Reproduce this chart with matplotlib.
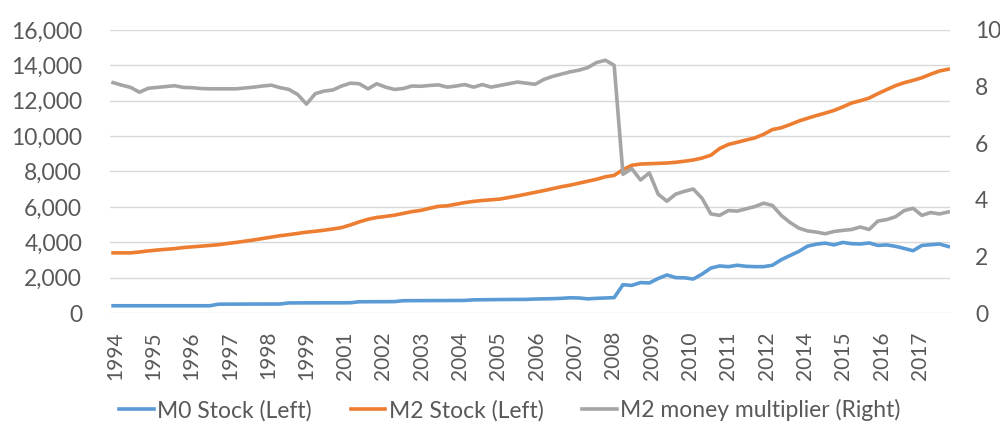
import numpy as np
import matplotlib
matplotlib.use("Agg")
from matplotlib import pyplot as plt
from matplotlib.ticker import FuncFormatter

m0_stock = [
    410, 410, 410, 410, 410, 410, 410, 410, 410, 410, 410, 410,
    500, 502, 503, 505, 506, 507, 508, 510,
    570, 572, 574, 575, 576, 577, 578, 580,
    635, 638, 640, 642, 645,
    695, 698, 700, 702, 704, 706, 708, 710,
    745, 750, 755, 760, 765, 768, 770,
    790, 800, 810, 830, 860, 850, 800, 830, 850, 870,
    1600, 1560, 1720, 1700, 1950, 2150, 2000, 1990, 1920, 2200,
    2540, 2660, 2620, 2700, 2640, 2620, 2620, 2700,
    3010, 3250, 3480, 3780, 3890, 3950, 3850, 3990,
    3920, 3900, 3960, 3820, 3850, 3770, 3650, 3520,
    3820, 3860, 3900, 3760,
]

m2_stock = [
    3400, 3400, 3400, 3450, 3510, 3560, 3600, 3640, 3700, 3740, 3780, 3820,
    3860, 3930, 3990, 4060, 4130, 4210, 4290, 4370, 4430, 4500, 4570, 4620,
    4680, 4750, 4830, 4980, 5150, 5300, 5400, 5460, 5530, 5630, 5730, 5800,
    5920, 6030, 6060, 6150, 6240, 6310, 6360, 6400, 6440, 6530, 6620, 6720,
    6820, 6920, 7030, 7140, 7230, 7340, 7450, 7560, 7700, 7780, 8100, 8350,
    8420, 8440, 8460, 8480, 8520, 8580, 8650, 8760, 8920, 9300, 9530, 9650,
    9780, 9900, 10100, 10370, 10470, 10650, 10850, 11010, 11160, 11300, 11450, 11650,
    11870, 12000, 12150, 12400, 12630, 12850, 13020, 13150, 13300, 13500, 13680, 13780,
]

m2_multiplier = [
    8.14, 8.05, 7.97, 7.80, 7.94, 7.97, 8.00, 8.03, 7.97, 7.96, 7.93, 7.92,
    7.92, 7.92, 7.92, 7.95, 7.98, 8.02, 8.05, 7.96, 7.90, 7.72, 7.38, 7.75,
    7.84, 7.88, 8.02, 8.12, 8.10, 7.92, 8.10, 7.98, 7.90, 7.93, 8.02, 8.01,
    8.04, 8.06, 7.98, 8.02, 8.07, 7.98, 8.07, 7.98, 8.04, 8.10, 8.16, 8.12,
    8.08, 8.25, 8.36, 8.44, 8.52, 8.58, 8.67, 8.85, 8.93, 8.75, 4.90, 5.10,
    4.70, 4.95, 4.20, 3.95, 4.20, 4.30, 4.38, 4.05, 3.50, 3.45, 3.62, 3.60,
    3.68, 3.76, 3.88, 3.80, 3.45, 3.20, 3.00, 2.90, 2.86, 2.80, 2.88, 2.92,
    2.95, 3.04, 2.95, 3.25, 3.30, 3.40, 3.62, 3.70, 3.45, 3.55, 3.50, 3.57,
]

year_labels = ["1994", "1995", "1996", "1997", "1998", "1999", "2001", "2002",
               "2003", "2004", "2005", "2006", "2007", "2008", "2009", "2010",
               "2011", "2012", "2014", "2015", "2016", "2017"]

text_color = "#595959"
plt.rcParams["font.family"] = ["Lato", "DejaVu Sans"]

fig = plt.figure(figsize=(10, 4.25), dpi=100)
ax = fig.add_axes([0.11, 0.2635, 0.84, 0.666])
ax2 = ax.twinx()

x = np.arange(len(m0_stock))
l1, = ax.plot(x, m0_stock, color="#5b9bd5", lw=2.6, label="M0 Stock (Left)")
l2, = ax.plot(x, m2_stock, color="#ed7d31", lw=2.6, label="M2 Stock (Left)")
l3, = ax2.plot(x, m2_multiplier, color="#a5a5a5", lw=2.6,
               label="M2 money multiplier (Right)")

ax.set_xlim(-0.35, 95.2)
ax.set_ylim(0, 16000)
ax.set_yticks(np.arange(0, 16001, 2000))
ax.yaxis.set_major_formatter(FuncFormatter(lambda v, p: f"{int(v):,}"))
ax2.set_ylim(0, 10)
ax2.set_yticks(np.arange(0, 11, 2))

ax.set_xticks(np.linspace(0.2, 91.8, len(year_labels)))
ax.set_xticklabels(year_labels, rotation=90)

ax.grid(axis="y", color="#d9d9d9", lw=1)
ax.set_axisbelow(True)
for a in (ax, ax2):
    for s in a.spines.values():
        s.set_visible(False)
ax.tick_params(axis="x", length=0, pad=13, labelsize=15, labelcolor=text_color)
ax.tick_params(axis="y", length=0, pad=20, labelsize=16.5, labelcolor=text_color)
ax2.tick_params(axis="y", length=0, pad=18, labelsize=16.5, labelcolor=text_color)

fig.legend(handles=[l1, l2, l3], loc="center", bbox_to_anchor=(0.51, 0.035),
           ncol=3, frameon=False, fontsize=16.5, handlelength=1.5,
           handletextpad=0.15, columnspacing=1.7, labelcolor=text_color)

fig.savefig("out.png", dpi=100)
